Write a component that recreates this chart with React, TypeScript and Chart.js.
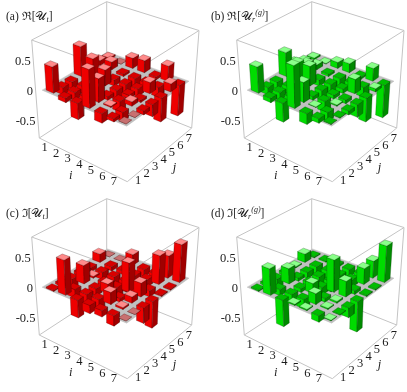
import React, { useEffect, useRef } from "react";
import { Chart, registerables } from "chart.js";

Chart.register(...registerables);

const tickCells = [1, 2, 3, 4, 5, 6, 7];
const zTicks = [0.5, 0, -0.5];

const valuesA = [
  [0.43, -0.12, -0.12, 0.5, 0.15, 0.08, 0.03],
  [-0.07, -0.12, -0.12, 0.37, -0.06, 0.13, 0],
  [-0.26, -0.12, -0.1, 0.26, -0.1, -0.04, 0.17],
  [0.62, 0.38, -0.06, -0.15, -0.18, -0.14, 0.2],
  [-0.15, 0.02, -0.17, -0.06, -0.12, -0.14, -0.05],
  [-0.05, -0.14, 0.07, -0.04, 0.18, -0.16, 0.25],
  [0, 0, -0.06, -0.19, -0.38, 0.13, -0.5],
];
const valuesB = [
  [0.43, -0.12, -0.12, 0.4, 0.14, 0.07, 0.03],
  [-0.07, -0.12, -0.12, 0.3, 0.2, 0.08, 0.01],
  [-0.3, -0.12, -0.12, 0.32, -0.1, -0.04, 0.1],
  [0.68, 0.32, -0.06, -0.15, -0.16, -0.14, 0.15],
  [-0.17, 0.01, -0.17, -0.06, -0.07, -0.14, -0.04],
  [-0.07, -0.14, 0.02, -0.06, 0.23, -0.16, 0.21],
  [-0.01, -0.01, -0.06, -0.2, -0.38, 0.05, -0.53],
];
const valuesC = [
  [-0.02, -0.04, -0.2, -0.06, -0.07, 0.14, 0],
  [0.57, -0.14, 0.3, 0.03, -0.12, -0.07, 0],
  [-0.28, -0.24, -0.12, -0.06, -0.15, -0.06, 0.18],
  [-0.13, -0.18, 0.15, -0.17, -0.17, -0.17, -0.12],
  [-0.1, 0.19, -0.06, 0.47, -0.12, -0.12, -0.15],
  [-0.16, 0.03, 0.1, 0.22, -0.1, 0.47, 0.37],
  [0, 0, -0.24, -0.42, -0.02, -0.02, 0.62],
];
const valuesD = [
  [-0.02, -0.04, -0.15, -0.05, 0.02, 0.14, -0.02],
  [0.43, -0.1, 0.25, -0.05, -0.1, -0.14, -0.02],
  [-0.42, -0.15, -0.06, -0.06, -0.15, -0.15, -0.04],
  [0.02, -0.15, 0.16, -0.12, -0.17, -0.14, -0.12],
  [0.02, 0.17, -0.06, 0.52, -0.08, -0.12, -0.12],
  [-0.1, 0.02, 0.03, 0.25, -0.06, 0.26, 0.28],
  [0.01, -0.01, -0.15, -0.48, -0.02, -0.02, 0.6],
];

const corners = {
  left0: [39.3, 138], front0: [127.3, 181.7], right0: [191.7, 128], back0: [106.7, 94],
  left1: [31.7, 40], front1: [128, 75], right1: [199, 30.5], back1: [106.7, 1.7],
};
const zMin = -0.79;
const zMax = 0.83;
const margin = 0.04;
const barWidth = 0.62;

type Pt = { x: number; y: number };
function project(u: number, v: number, w: number): Pt {
  const c = corners;
  const mix = (k: 0 | 1) =>
    (1 - w) * ((1 - u) * (1 - v) * c.left0[k] + u * (1 - v) * c.front0[k] + u * v * c.right0[k] + (1 - u) * v * c.back0[k]) +
    w * ((1 - u) * (1 - v) * c.left1[k] + u * (1 - v) * c.front1[k] + u * v * c.right1[k] + (1 - u) * v * c.back1[k]);
  return { x: mix(0), y: mix(1) };
}
const cellToUnit = (p: number) => margin + ((1 - 2 * margin) * (p - 0.5)) / 7;
const zToUnit = (z: number) => (z - zMin) / (zMax - zMin);
const at = (i: number, j: number, z: number) => project(cellToUnit(i), cellToUnit(j), zToUnit(z));

type Palette = { top: string; under: string; muted: string; left: string; right: string; edge: string };
const red: Palette = { top: "#ff8a8a", under: "#d80000", muted: "#c87070", left: "#ee0000", right: "#a00000", edge: "rgba(70,0,0,0.55)" };
const green: Palette = { top: "#8aff8a", under: "#00bc00", muted: "#20b820", left: "#00dc00", right: "#008a00", edge: "rgba(0,60,0,0.55)" };

const poly = (pts: Pt[], fill: string, edge: string, bw = 0.5) => ({
  data: [...pts, pts[0]],
  borderColor: edge,
  borderWidth: bw,
  backgroundColor: fill,
  fill: "shape",
  pointRadius: 0,
  tension: 0,
  clip: false,
});
const seg = (a: Pt, b: Pt) => ({
  data: [a, b],
  borderColor: "#c4c4c4",
  borderWidth: 1,
  pointRadius: 0,
  fill: false,
  clip: false,
});

function barFaces(i: number, j: number, v: number, p: Palette) {
  const h = barWidth / 2;
  const x0 = i - h, x1 = i + h, y0 = j - h, y1 = j + h;
  const top = Math.max(v, 0), bot = Math.min(v, 0);
  const topColor = v === 0 ? p.muted : v < 0 ? p.under : p.top;
  return [
    poly([at(x0, y0, top), at(x1, y0, top), at(x1, y0, bot), at(x0, y0, bot)], p.left, p.edge),
    poly([at(x1, y0, top), at(x1, y1, top), at(x1, y1, bot), at(x1, y0, bot)], p.right, p.edge),
    poly([at(x0, y0, top), at(x1, y0, top), at(x1, y1, top), at(x0, y1, top)], topColor, p.edge),
  ];
}

function buildDatasets(values: number[][], p: Palette) {
  const order: [number, number][] = [];
  for (let i = 1; i <= 7; i++) for (let j = 1; j <= 7; j++) order.push([i, j]);
  // i rising and j falling comes nearer to the viewer
  const sorted = order.sort((a, b) => a[0] - a[1] - (b[0] - b[1]));
  const painted: any[] = [];
  const co = corners;
  const P = (c: number[]) => ({ x: c[0], y: c[1] });
  const lo = 0.5, hi = 7.5;
  painted.push(seg(P(co.left0), P(co.back0)), seg(P(co.back0), P(co.right0)), seg(P(co.back0), P(co.back1)));
  painted.push(seg(P(co.left1), P(co.front1)), seg(P(co.front1), P(co.right1)));
  painted.push(seg(P(co.left1), P(co.back1)), seg(P(co.back1), P(co.right1)));
  painted.push(seg(P(co.left0), P(co.left1)), seg(P(co.right0), P(co.right1)));
  painted.push(seg(P(co.left0), P(co.front0)), seg(P(co.front0), P(co.right0)));
  painted.push(poly([at(lo, lo, 0), at(hi, lo, 0), at(hi, hi, 0), at(lo, hi, 0)], "#c0c0c0", "#c0c0c0"));
  for (const [i, j] of sorted) painted.push(...barFaces(i, j, values[i - 1][j - 1], p));
  return painted.reverse();
}

type Run = { t: string; italic?: boolean; size?: number; dy?: number };

const labelFont = "'Liberation Serif', 'DejaVu Serif', serif";
function makeTextPlugin(title: Run[]) {
  return {
    id: "panelText",
    afterDatasetsDraw(chart: any) {
      const { ctx, scales } = chart;
      const px = (p: Pt) => ({ x: scales.x.getPixelForValue(p.x), y: scales.y.getPixelForValue(p.y) });
      ctx.save();
      ctx.fillStyle = "#1c1c1c";
      ctx.textBaseline = "middle";
      ctx.textAlign = "center";
      ctx.font = `12.5px ${labelFont}`;
      for (const n of tickCells) {
        const a = px(project(cellToUnit(n), 0, 0));
        ctx.fillText(String(n), a.x - 4, a.y + 5);
        const b = px(project(1, cellToUnit(n), 0));
        ctx.fillText(String(n), b.x + 4, b.y + 5);
      }
      ctx.textAlign = "right";
      for (const z of zTicks) {
        const e = px(project(0, 0, zToUnit(z)));
        ctx.fillText(String(z), e.x - 2.5, e.y + 1.5);
      }
      ctx.textAlign = "center";
      ctx.font = `italic 12.5px ${labelFont}`;
      const il = px(project(0.55, 0, 0));
      ctx.fillText("i", il.x - 17, il.y + 14);
      const jl = px(project(1, 0.7, 0));
      ctx.fillText("j", jl.x + 2, jl.y + 24);
      ctx.textAlign = "left";
      let x = scales.x.getPixelForValue(6);
      const y = scales.y.getPixelForValue(16.5);
      for (const r of title) {
        ctx.font = `${r.italic ? "italic " : ""}${r.size ?? 11.5}px ${labelFont}`;
        ctx.fillText(r.t, x, y + (r.dy ?? 0));
        x += ctx.measureText(r.t).width;
      }
      ctx.restore();
    },
  };
}

function Panel({ values, palette, title, left, top }: { values: number[][]; palette: Palette; title: Run[]; left: number; top: number }) {
  const ref = useRef<HTMLCanvasElement>(null);
  useEffect(() => {
    const chart = new Chart(ref.current!, {
      type: "line",
      data: { datasets: buildDatasets(values, palette) as any },
      options: {
        animation: false,
        responsive: false,
        parsing: false,
        normalized: false,
        layout: { padding: 0 },
        plugins: { legend: { display: false }, tooltip: { enabled: false }, title: { display: false } },
        scales: {
          x: { type: "linear", min: 0, max: 204, display: false },
          y: { type: "linear", min: 0, max: 196, reverse: true, display: false },
        },
      },
      plugins: [makeTextPlugin(title) as any],
    });
    return () => chart.destroy();
  }, []);
  return <canvas ref={ref} width={204} height={196} style={{ position: "absolute", left, top, width: 204, height: 196 }} />;
}

const titleOf = (tag: string, part: string, isGreen: boolean): Run[] =>
  isGreen
    ? [{ t: `(${tag}) ${part}[𝒰` }, { t: "r", italic: true, size: 8, dy: 3 }, { t: "(g)", italic: true, size: 8, dy: -4 }, { t: "]" }]
    : [{ t: `(${tag}) ${part}[𝒰` }, { t: "t", italic: true, size: 8, dy: 3 }, { t: "]" }];

export default function App() {
  return (
    <div style={{ position: "absolute", left: 0, top: 0, width: 407, height: 392, background: "#fff", overflow: "hidden" }}>
      <Panel values={valuesA} palette={red} title={titleOf("a", "ℜ", false)} left={0} top={0} />
      <Panel values={valuesB} palette={green} title={titleOf("b", "ℜ", true)} left={205} top={0} />
      <Panel values={valuesC} palette={red} title={titleOf("c", "ℑ", false)} left={0} top={197} />
      <Panel values={valuesD} palette={green} title={titleOf("d", "ℑ", true)} left={205} top={197} />
    </div>
  );
}
